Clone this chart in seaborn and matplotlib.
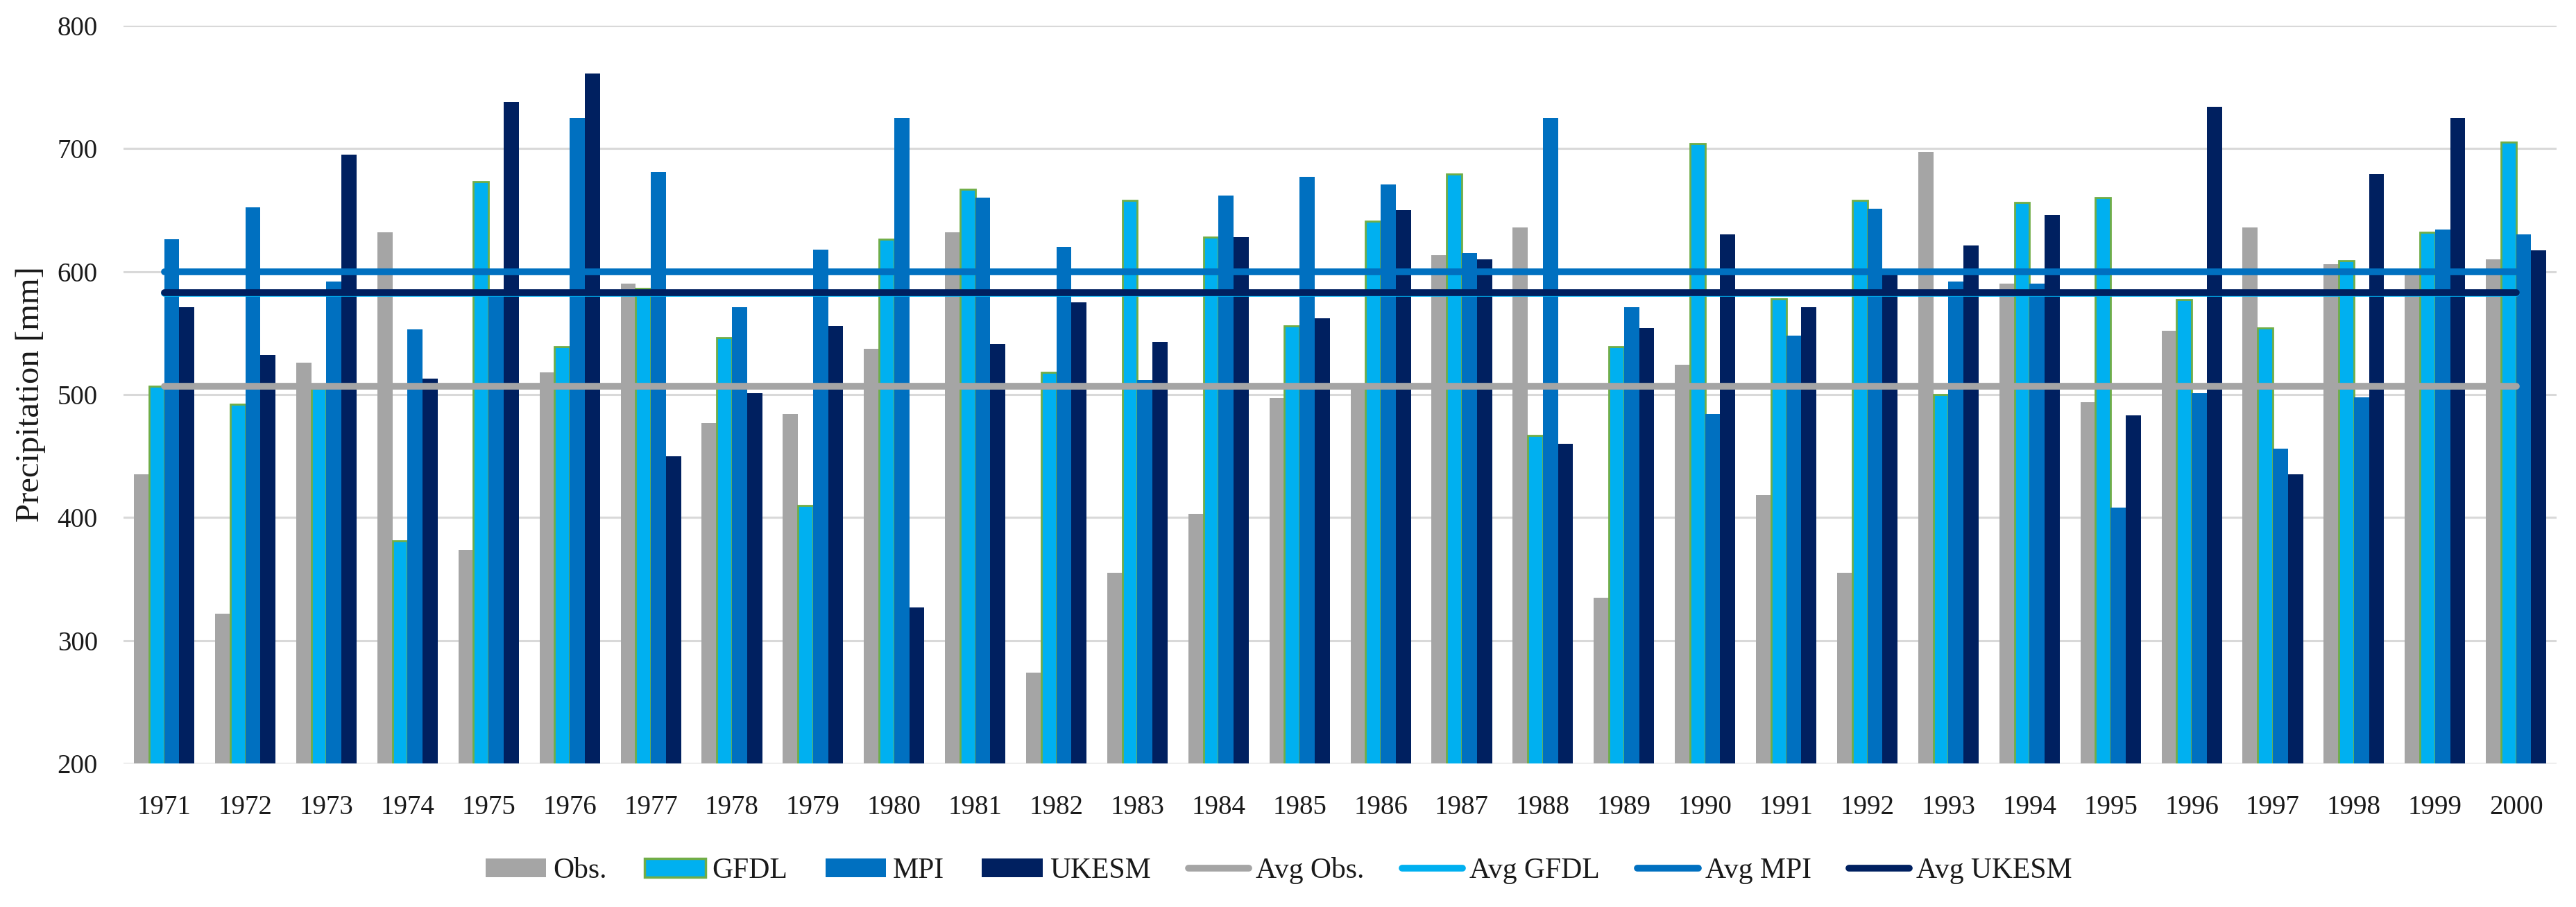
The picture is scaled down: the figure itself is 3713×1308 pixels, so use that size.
import pandas as pd
import matplotlib.pyplot as plt
import numpy as np
import seaborn as sns
from matplotlib.patches import Patch
from matplotlib.lines import Line2D

sns.set_theme(style="white")
plt.rcParams['font.family'] = ['Liberation Serif', 'DejaVu Serif']

years = [str(y) for y in range(1971, 2001)]
obs = [435, 322, 526, 632, 374, 518, 590, 477, 484, 537, 632, 274, 355, 403, 497,
       505, 613, 636, 335, 524, 418, 355, 697, 590, 494, 552, 636, 606, 598, 610]
gfdl = [507, 492, 505, 381, 673, 539, 586, 546, 410, 626, 667, 518, 658, 628, 556,
        641, 679, 467, 539, 704, 578, 658, 500, 656, 660, 577, 554, 609, 632, 705]
mpi = [626, 652, 592, 553, 580, 725, 681, 571, 618, 725, 660, 620, 512, 662, 677,
       671, 615, 725, 571, 484, 548, 651, 592, 590, 408, 501, 456, 498, 634, 630]
ukesm = [571, 532, 695, 513, 738, 761, 450, 501, 556, 327, 541, 575, 543, 628, 562,
         650, 610, 460, 554, 630, 571, 598, 621, 646, 483, 734, 435, 679, 725, 617]

series = ['Obs.', 'GFDL', 'MPI', 'UKESM']
avg_labels = ['Avg Obs.', 'Avg GFDL', 'Avg MPI', 'Avg UKESM']
avg_values = [507, 582, 600, 583]

colors = ['#A5A5A5', '#00B0F0', '#0070C0', '#002060']

df = pd.DataFrame({'year': years, 'Obs.': obs, 'GFDL': gfdl, 'MPI': mpi, 'UKESM': ukesm})
long = df.melt(id_vars='year', var_name='series', value_name='value')

fig = plt.figure(figsize=(37.13, 13.08), dpi=100)
ax = fig.add_axes([0.048, 0.158, 0.9445, 0.814])

sns.barplot(data=long, x='year', y='value', hue='series', hue_order=series,
            palette=colors, width=0.745, gap=0, saturation=1, legend=False,
            linewidth=0, ax=ax, zorder=2)

# GFDL bars carry a thin green outline
for bar in ax.containers[1]:
    bar.set_edgecolor('#70AD47')
    bar.set_linewidth(2)

x = np.arange(len(years))
for lab, val, c in zip(avg_labels, avg_values, colors):
    ax.plot(x, np.full(len(years), val), color=c, lw=7, solid_capstyle='round', zorder=3)

ax.set_ylim(200, 800)
ax.set_xlim(-0.5, len(years) - 0.5)
ax.set_yticks(range(200, 801, 100))
ax.yaxis.grid(True, color='#D9D9D9', lw=2.2, zorder=0)
ax.set_axisbelow(True)
for s in ax.spines.values():
    s.set_visible(False)
ax.tick_params(axis='both', length=0, labelsize=28, colors='#1a1a1a')
ax.tick_params(axis='y', pad=27)
ax.tick_params(axis='x', pad=32)
ax.set_xlabel('')
ax.set_ylabel('Precipitation [mm]', fontsize=35, color='#1a1a1a', labelpad=12)

handles = [Patch(facecolor=colors[0], edgecolor='none'),
           Patch(facecolor=colors[1], edgecolor='#70AD47', linewidth=2.5),
           Patch(facecolor=colors[2], edgecolor='none'),
           Patch(facecolor=colors[3], edgecolor='none')]
handles += [Line2D([0], [0], color=c, lw=7, solid_capstyle='round') for c in colors]
fig.legend(handles, series + avg_labels, loc='center', bbox_to_anchor=(0.4965, 0.04),
           ncol=8, frameon=False, fontsize=30, handlelength=2.1, handleheight=0.65,
           handletextpad=0.24, columnspacing=1.3, labelcolor='#1a1a1a')

plt.savefig('out.png', dpi=100)
